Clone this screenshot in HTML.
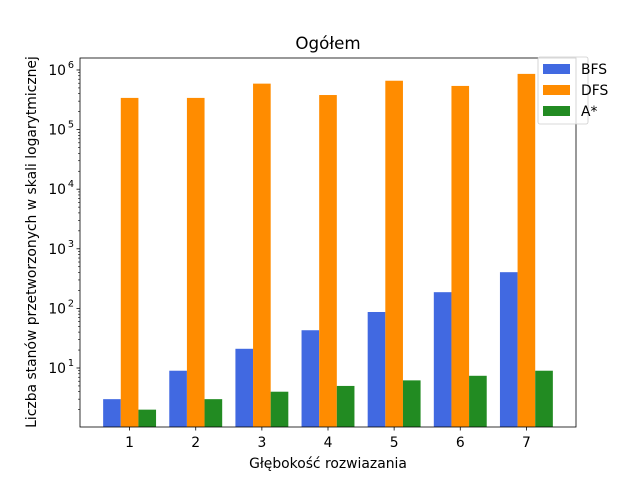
<!DOCTYPE html>
<html><head><meta charset="utf-8"><style>
body{margin:0;background:#fff;}
svg text{font-family:"DejaVu Sans","Liberation Sans",sans-serif;fill:#000;}
</style></head><body>
<svg id="chart" width="640" height="480" xmlns="http://www.w3.org/2000/svg">
<rect width="640" height="480" fill="#fff"/>
<g id="plot"></g>
</svg>
<script>
const categories=["1","2","3","4","5","6","7"];
const bfs=[3,9,21,43,87,187,405];
const dfs=[340000,340000,590000,380000,660000,540000,860000];
const astar=[2,3,4,5,6.2,7.4,9];
const seriesNames=["BFS","DFS","A*"];
const yTickExps=[1,2,3,4,5,6];

const L=80,R=576,T=58,B=427;
const xmin=0.25,xmax=7.75,lmin=0.01,lmax=6.201;
const NS="http://www.w3.org/2000/svg";
const g=document.getElementById('plot');
function x(v){return L+(v-xmin)/(xmax-xmin)*(R-L);}
function y(v){return B-(Math.log10(v)-lmin)/(lmax-lmin)*(B-T);}
function el(t,a,p){const e=document.createElementNS(NS,t);for(const k in a)e.setAttribute(k,a[k]);(p||g).appendChild(e);return e;}
const colors=["#4169e1","#ff8c00","#228b22"];
const data=[bfs,dfs,astar];
const bw=0.8/3;
data.forEach((s,si)=>{s.forEach((v,i)=>{
 const cx=i+1+(si-1)*bw;
 const r=el('rect',{x:x(cx-bw/2),y:y(v),width:x(cx+bw/2)-x(cx-bw/2),height:B-y(v),fill:colors[si]});
 
 
});});
categories.forEach((c,i)=>{
 const xx=x(i+1);
 el('line',{x1:xx,x2:xx,y1:B,y2:B+3.5,stroke:'#000','stroke-width':0.8});
 const t=el('text',{x:xx,y:B+20,'text-anchor':'middle','font-size':13.9});t.textContent=c;
 
 
});
for(let e=0;e<=6;e++){
 for(let m=1;m<10;m++){
  const v=m*Math.pow(10,e);
  if(Math.log10(v)<lmin||Math.log10(v)>lmax)continue;
  const yy=y(v);
  el('line',{x1:L,x2:L-(m==1?3.5:2),y1:yy,y2:yy,stroke:'#000','stroke-width':m==1?0.8:0.6});
 }
}
yTickExps.forEach(e=>{
 const yy=y(Math.pow(10,e));
 const t=el('text',{x:L-14,y:yy+5,'text-anchor':'end','font-size':13.9});
 t.innerHTML='10';
 const s=el('text',{x:L-6,y:yy-2,'text-anchor':'end','font-size':9.7});s.textContent=e;
 
 
 
 
});
el('rect',{x:L,y:T,width:R-L,height:B-T,fill:'none',stroke:'#000','stroke-width':0.8});
let t=el('text',{x:(L+R)/2,y:49,'text-anchor':'middle','font-size':16.7});t.textContent='Ogółem';

t=el('text',{x:(L+R)/2,y:468,'text-anchor':'middle','font-size':13.9});t.textContent='Głębokość rozwiazania';

t=el('text',{x:0,y:0,'text-anchor':'middle','font-size':13.9,transform:'translate(36,242) rotate(-90)'});t.textContent='Liczba stanów przetworzonych w skali logarytmicznej';

const lg=el('g',{});

el('rect',{x:538,y:57,width:50,height:67,rx:2,fill:'#fff','fill-opacity':0.8,stroke:'#ccc','stroke-width':0.8},lg);
seriesNames.forEach((n,i)=>{
 const yy=64+i*21;
 el('rect',{x:543,y:yy,width:27,height:10,fill:colors[i]},lg);
 const tt=el('text',{x:581,y:yy+10,'font-size':13.9},lg);tt.textContent=n;
 
});
</script>
</body></html>
